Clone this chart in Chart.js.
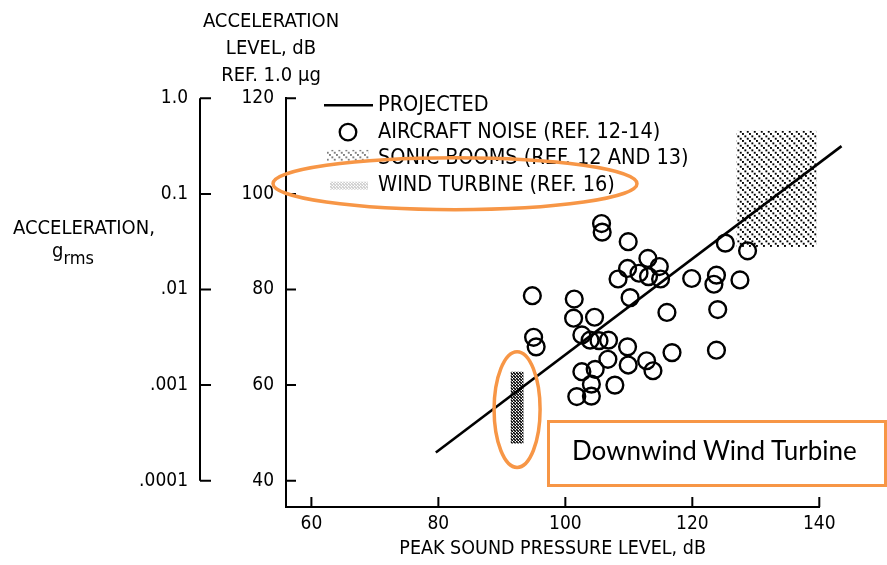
<!DOCTYPE html>
<html>
<head>
<meta charset="utf-8">
<script src="https://cdn.jsdelivr.net/npm/chart.js@4.4.0/dist/chart.umd.min.js"></script>
<style>
  body { margin: 0; background: #fff; }
  #wrap { position: relative; width: 887px; height: 565px; }
  .lbl { position: absolute; font-family: 'DejaVu Sans Condensed', 'DejaVu Sans', sans-serif; color: #000; white-space: nowrap; }
  #accTitle { left: 171px; top: 7px; width: 200px; font-size: 20px; line-height: 27px; text-align: center; }
  #gTitle { left: 13px; top: 214px; font-size: 20px; line-height: 27px; }
  #gSub { left: 52px; top: 240px; font-size: 20px; line-height: 20px; }
  #gSub sub { font-size: 18px; vertical-align: -7px; }
  #note { position: absolute; left: 547px; top: 420px; width: 334px; height: 61px; border: 3px solid #f79646; }
  #note span { position: absolute; left: 22px; top: 11px; font-family: Lato, 'Open Sans', sans-serif; font-size: 26px; color: #000; }
</style>
</head>
<body>
<div id="wrap">
  <canvas id="myChart" width="887" height="565"></canvas>
  <div class="lbl" id="accTitle">ACCELERATION<br>LEVEL, dB<br>REF. 1.0 μg</div>
  <div class="lbl" id="gTitle">ACCELERATION,</div>
  <div class="lbl" id="gSub">g<sub>rms</sub></div>
  <div id="note"><span>Downwind Wind Turbine</span></div>
</div>
<script>
// axis ticks
const xTicks = [60, 80, 100, 120, 140];
const yTicks = [40, 60, 80, 100, 120];
const accTicks = [1, 0.1, 0.01, 0.001, 0.0001];
const accLabels = ['1.0', '0.1', '.01', '.001', '.0001'];

// aircraft noise (ref. 12-14), peak SPL dB vs acceleration level dB
const aircraftX = [105.7, 105.8, 109.9, 113.0, 114.8, 109.8, 111.6, 113.1, 115.0, 108.3,
                   119.9, 123.8, 123.4, 127.5, 125.2, 128.7, 94.8, 101.4, 110.2, 116.0,
                   124.0, 101.3, 104.6, 95.0, 95.4, 102.6, 103.9, 105.3, 106.8, 109.8,
                   123.8, 116.8, 106.7, 109.9, 112.8, 113.8, 104.7, 102.6, 104.1, 107.8,
                   101.8, 104.1];
const aircraftY = [93.8, 92.0, 90.0, 86.5, 84.8, 84.4, 83.4, 82.7, 82.2, 82.2,
                   82.3, 83.0, 81.1, 82.0, 89.7, 88.1, 78.7, 78.0, 78.3, 75.2,
                   75.8, 74.0, 74.2, 70.0, 68.0, 70.5, 69.4, 69.3, 69.4, 68.0,
                   67.3, 66.8, 65.4, 64.2, 65.1, 63.0, 63.3, 62.8, 60.2, 60.0,
                   57.6, 57.7];

// projected line
const projectedX = [79.6, 143.5];
const projectedY = [45.9, 110.0];

// sonic booms (ref. 12 and 13) range
const sonicX = [127.0, 139.6];
const sonicY = [88.9, 113.2];

// wind turbine (ref. 16) range
const turbineX = [91.4, 93.4];
const turbineY = [47.8, 62.8];

const legendLabels = ['PROJECTED', 'AIRCRAFT NOISE (REF. 12-14)', 'SONIC BOOMS (REF. 12 AND 13)', 'WIND TURBINE (REF. 16)'];

const fontFam = "'DejaVu Sans Condensed', 'DejaVu Sans', sans-serif";
const orange = '#f79646';

function makePattern(size, draw) {
  const c = document.createElement('canvas');
  c.width = size; c.height = size;
  draw(c.getContext('2d'));
  return document.getElementById('myChart').getContext('2d').createPattern(c, 'repeat');
}

// dotted diagonal hatch for sonic booms
const sonicPattern = makePattern(7, g => {
  g.fillStyle = '#000';
  g.fillRect(0, 0, 1.9, 1.9);
  g.fillRect(2.4, 2.4, 1.9, 1.9);
  g.fillRect(4.8, 4.8, 1.9, 1.9);
});
// dense dark hatch for wind turbine
const turbinePattern = makePattern(3, g => {
  g.fillStyle = '#000';
  g.fillRect(0, 0, 1.6, 1.6);
  g.fillRect(1, 1, 1.6, 1.6);
  g.fillRect(2, 2, 1, 1);
});

function box(xs, ys) {
  return [
    {x: xs[0], y: ys[0]}, {x: xs[1], y: ys[0]},
    {x: xs[1], y: ys[1]}, {x: xs[0], y: ys[1]}, {x: xs[0], y: ys[0]}
  ];
}

// inward tick marks, legend and orange callouts
const extras = {
  id: 'extras',
  afterDraw(chart) {
    const ctx = chart.ctx;
    const sx = chart.scales.x, sy = chart.scales.y, sa = chart.scales.yAcc;
    const area = chart.chartArea;
    ctx.save();
    ctx.strokeStyle = '#000';
    ctx.lineWidth = 2;
    ctx.beginPath();
    xTicks.forEach(v => {
      const p = sx.getPixelForValue(v);
      ctx.moveTo(p, area.bottom);
      ctx.lineTo(p, area.bottom - 10);
    });
    yTicks.forEach(v => {
      const p = sy.getPixelForValue(v);
      ctx.moveTo(area.left, p);
      ctx.lineTo(area.left + 10, p);
    });
    // acceleration axis line
    const ax = sa.right;
    ctx.moveTo(ax, sa.getPixelForValue(accTicks[0]));
    ctx.lineTo(ax, sa.getPixelForValue(accTicks[accTicks.length - 1]));
    accTicks.forEach(v => {
      const p = sa.getPixelForValue(v);
      ctx.moveTo(ax, p);
      ctx.lineTo(ax + 11, p);
    });
    ctx.stroke();

    // legend
    const lx = area.left + 38, ly = area.top + 7, step = 26.8;
    ctx.fillStyle = '#000';
    ctx.font = '21.5px ' + fontFam;
    ctx.textBaseline = 'middle';
    legendLabels.forEach((t, i) => ctx.fillText(t, lx + 54, ly + i * step));
    ctx.lineWidth = 2.5;
    ctx.beginPath();
    ctx.moveTo(lx, ly);
    ctx.lineTo(lx + 49, ly);
    ctx.stroke();
    ctx.lineWidth = 2.3;
    ctx.beginPath();
    ctx.arc(lx + 24, ly + step, 8.3, 0, Math.PI * 2);
    ctx.stroke();
    ctx.globalAlpha = 0.5;
    ctx.fillStyle = sonicPattern;
    ctx.fillRect(lx + 3, ly + 2 * step - 9, 42, 11);
    ctx.globalAlpha = 0.2;
    ctx.fillStyle = turbinePattern;
    ctx.fillRect(lx + 6, ly + 3 * step - 4, 38, 8);
    ctx.globalAlpha = 1;

    // orange callouts
    ctx.strokeStyle = orange;
    ctx.lineWidth = 3.5;
    ctx.beginPath();
    ctx.ellipse(lx + 131, ly + 3 * step - 2, 182, 26, 0, 0, Math.PI * 2);
    ctx.stroke();
    const tcx = sx.getPixelForValue((turbineX[0] + turbineX[1]) / 2);
    const tcy = sy.getPixelForValue((turbineY[0] + turbineY[1]) / 2);
    const trh = Math.abs(sy.getPixelForValue(turbineY[1]) - sy.getPixelForValue(turbineY[0])) / 2;
    ctx.beginPath();
    ctx.ellipse(tcx, tcy + 2, 23, trh + 22, 0, 0, Math.PI * 2);
    ctx.stroke();
    ctx.restore();
  }
};

const tickFont = {family: fontFam, size: 19};

new Chart('myChart', {
  type: 'scatter',
  data: {
    datasets: [
      {
        label: legendLabels[1],
        data: aircraftX.map((v, i) => ({x: v, y: aircraftY[i]})),
        pointStyle: 'circle',
        pointRadius: 8.4,
        borderWidth: 2.4,
        borderColor: '#000',
        backgroundColor: 'rgba(0,0,0,0)'
      },
      {
        type: 'line',
        label: legendLabels[0],
        data: projectedX.map((v, i) => ({x: v, y: projectedY[i]})),
        borderColor: '#000',
        borderWidth: 2.6,
        pointRadius: 0,
        fill: false,
        clip: false
      },
      {
        type: 'line',
        label: legendLabels[2],
        data: box(sonicX, sonicY),
        backgroundColor: sonicPattern,
        borderWidth: 0,
        pointRadius: 0,
        fill: 'shape',
        tension: 0
      },
      {
        type: 'line',
        label: legendLabels[3],
        data: box(turbineX, turbineY),
        backgroundColor: turbinePattern,
        borderWidth: 0,
        pointRadius: 0,
        fill: 'shape',
        tension: 0
      }
    ]
  },
  options: {
    responsive: false,
    animation: false,
    events: [],
    layout: {padding: {top: 98.3, right: 67.7, bottom: 0, left: 0}},
    plugins: {legend: {display: false}, tooltip: {enabled: false}},
    scales: {
      x: {
        type: 'linear',
        min: 56,
        max: 140,
        afterBuildTicks: s => { s.ticks = xTicks.map(v => ({value: v})); },
        afterFit: s => { s.height = 58; },
        grid: {display: false, drawTicks: false},
        border: {color: '#000', width: 2},
        ticks: {color: '#000', font: tickFont, padding: 6},
        title: {display: true, text: 'PEAK SOUND PRESSURE LEVEL, dB', color: '#000',
                font: {family: fontFam, size: 19.5}, padding: {top: 0, bottom: 4}}
      },
      y: {
        type: 'linear',
        position: 'left',
        weight: 0,
        min: 34.5,
        max: 120,
        afterBuildTicks: s => { s.ticks = yTicks.map(v => ({value: v})); },
        afterFit: s => { s.width = 86; },
        grid: {display: false, drawTicks: false},
        border: {color: '#000', width: 2},
        ticks: {color: '#000', font: tickFont, padding: 12}
      },
      yAcc: {
        type: 'logarithmic',
        position: 'left',
        weight: 1,
        min: 5.31e-5,
        max: 1,
        afterBuildTicks: s => { s.ticks = accTicks.map(v => ({value: v})); },
        afterFit: s => { s.width = 200; },
        grid: {display: false, drawTicks: false},
        border: {display: false},
        ticks: {color: '#000', font: tickFont, padding: 12,
                callback: (v, i) => accLabels[i]}
      }
    }
  },
  plugins: [extras]
});
</script>
</body>
</html>
